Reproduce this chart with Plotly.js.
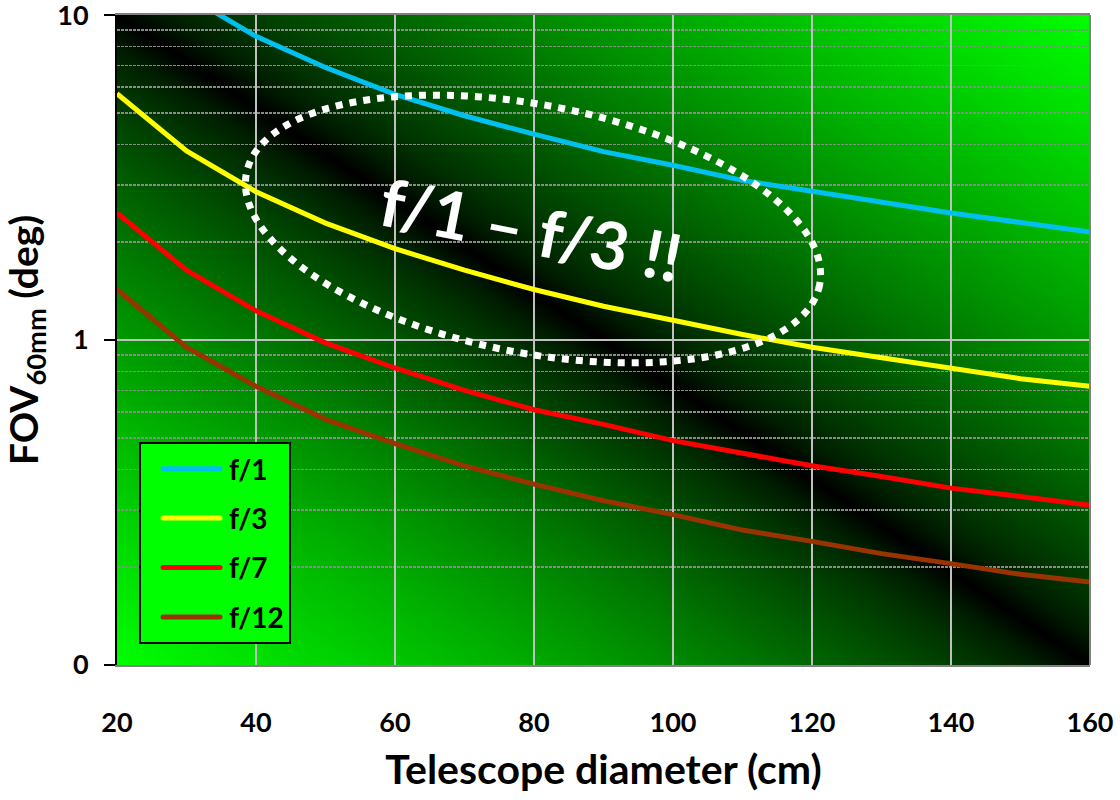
<!DOCTYPE html>
<html>
<head>
<meta charset="utf-8">
<script src="https://cdn.plot.ly/plotly-3.0.1.min.js"></script>
<style>
  html, body { margin: 0; padding: 0; background: #ffffff; }
  #chart { width: 1120px; height: 800px; }
</style>
</head>
<body>
<div id="chart"></div>
<script>
// ---- Data ----
const diameterCm = [20, 30, 40, 50, 60, 70, 80, 90, 100, 110, 120, 130, 140, 150, 160];
const fovF1  = [17.2, 11.5, 8.6, 6.9, 5.7, 4.9, 4.3, 3.8, 3.45, 3.1, 2.87, 2.65, 2.46, 2.3, 2.15];
const fovF3  = [5.73, 3.82, 2.86, 2.29, 1.91, 1.64, 1.43, 1.27, 1.15, 1.04, 0.95, 0.88, 0.82, 0.76, 0.72];
const fovF7  = [2.46, 1.64, 1.23, 0.98, 0.82, 0.70, 0.61, 0.55, 0.49, 0.45, 0.41, 0.38, 0.35, 0.33, 0.31];
const fovF12 = [1.43, 0.95, 0.72, 0.57, 0.48, 0.41, 0.36, 0.32, 0.29, 0.26, 0.24, 0.22, 0.205, 0.19, 0.18];
const seriesNames = ["f/1", "f/3", "f/7", "f/12"];
const xTickVals = [20, 40, 60, 80, 100, 120, 140, 160];
const yTickVals = [0.1, 1, 10];
const yTickText = ["0", "1", "10"];
const yMinorVals = [0.2, 0.3, 0.4, 0.5, 0.6, 0.7, 0.8, 0.9, 2, 3, 4, 5, 6, 7, 8, 9];
const noteText = "f/1 – f/3 !!";

// ---- Layout geometry ----
const W = 1120, H = 800;
const M = { l: 117, r: 30, t: 15, b: 135 };
const PW = W - M.l - M.r, PH = H - M.t - M.b;
const FONT = "Lato, 'Open Sans', 'DejaVu Sans', sans-serif";

// Background: diagonal green-black-green gradient (decoration of plot area)
function gradientImage() {
  const c = document.createElement("canvas");
  c.width = 1000; c.height = 1000;
  const g = c.getContext("2d");
  const gr = g.createLinearGradient(1000, 0, 0, 1000);
  const N = 40;
  for (let i = 0; i <= N; i++) {
    const t = i / N;
    const d = Math.abs(t - 0.5) * 2;
    const v = Math.round(255 * Math.pow(d, 0.72));
    gr.addColorStop(t, "rgb(0," + v + ",0)");
  }
  g.fillStyle = gr;
  g.fillRect(0, 0, 1000, 1000);
  return c.toDataURL("image/png");
}

// Dotted ellipse highlight (decoration), built in pixel space then converted to paper coords
function ellipsePath(cx, cy, a, b, deg) {
  const th = deg * Math.PI / 180;
  const pts = [];
  const n = 180;
  for (let i = 0; i <= n; i++) {
    const t = 2 * Math.PI * i / n;
    const ex = a * Math.cos(t), ey = b * Math.sin(t);
    const px = cx + ex * Math.cos(th) - ey * Math.sin(th);
    const py = cy + ex * Math.sin(th) + ey * Math.cos(th);
    const X = (px - M.l) / PW, Y = (M.t + PH - py) / PH;
    pts.push((i === 0 ? "M" : "L") + X.toFixed(5) + "," + Y.toFixed(5));
  }
  return pts.join(" ") + " Z";
}

const lineColors = ["#00c0f0", "#ffff00", "#ff0000", "#993300"];
const ys = [fovF1, fovF3, fovF7, fovF12];
const traces = ys.map((y, i) => ({
  type: "scatter",
  mode: "lines",
  x: diameterCm,
  y: y,
  name: seriesNames[i],
  legendgroup: "g" + i,
  line: { color: lineColors[i], width: 5 },
  hoverinfo: "x+y+name"
}));

const layout = {
  width: W, height: H,
  margin: M,
  paper_bgcolor: "#ffffff",
  plot_bgcolor: "rgba(0,0,0,0)",
  font: { family: FONT, color: "#000000" },
  showlegend: true,
  xaxis: {
    type: "linear",
    range: [20, 160],
    tickmode: "array",
    tickvals: xTickVals,
    ticks: "",
    showline: true, linecolor: "#808080", linewidth: 2, mirror: true,
    showgrid: true, gridcolor: "#c0c0c0", gridwidth: 2,
    zeroline: false,
    tickfont: { family: FONT, size: 27, color: "#000", weight: "bold" },
    ticklabelstandoff: 33,
    ticklabeloverflow: "allow",
    title: { text: "Telescope diameter (cm)", font: { family: FONT, size: 41, color: "#000", weight: "bold" }, standoff: 18 },
    automargin: false
  },
  yaxis: {
    type: "log",
    range: [-1.0003, 1.0003],
    tickmode: "array",
    tickvals: yTickVals,
    ticktext: yTickText,
    ticks: "outside", ticklen: 11, tickwidth: 2, tickcolor: "#000",
    showline: true, linecolor: "#000", linewidth: 2,
    showgrid: true, gridcolor: "#c0c0c0", gridwidth: 2,
    zeroline: false,
    minor: {
      tickmode: "array", tickvals: yMinorVals, ticks: "",
      showgrid: true, gridcolor: "#8a8a8a", gridwidth: 1.5, griddash: "3px,1px"
    },
    tickfont: { family: FONT, size: 27, color: "#000", weight: "bold" },
    ticklabelstandoff: 10,
    ticklabeloverflow: "allow",
    title: { text: "FOV<sub>60mm</sub> (deg)", font: { family: FONT, size: 39, color: "#000", weight: "bold" }, standoff: 12 },
    automargin: false
  },
  legend: {
    x: (139 - M.l) / PW, y: (M.t + PH - 442) / PH,
    xanchor: "left", yanchor: "top",
    bgcolor: "#00ff00", bordercolor: "#000", borderwidth: 2,
    font: { family: FONT, size: 28, color: "#000", weight: "bold" },
    tracegroupgap: 10,
    traceorder: "grouped",
    itemwidth: 78,
    entrywidth: 80,
    entrywidthmode: "pixels"
  },
  images: [{
    source: gradientImage(),
    xref: "paper", yref: "paper",
    x: 0, y: 1, sizex: 1, sizey: 1,
    xanchor: "left", yanchor: "top",
    sizing: "stretch", layer: "below"
  }],
  shapes: [
    { type: "line", xref: "paper", yref: "paper", x0: 1, x1: 1, y0: 0, y1: 1,
      line: { color: "#808080", width: 2 } },
    { type: "path", xref: "paper", yref: "paper",
      path: ellipsePath(533, 229, 292, 124, 11),
      line: { color: "#ffffff", width: 7, dash: "dot" },
      fillcolor: "rgba(0,0,0,0)" }
  ],
  annotations: [{
    xref: "paper", yref: "paper",
    x: (531 - M.l) / PW, y: (M.t + PH - 228) / PH,
    xanchor: "center", yanchor: "middle",
    text: noteText, showarrow: false, textangle: 11,
    font: { family: FONT, size: 66, color: "#ffffff", weight: "bold" }
  }]
};

// Lengthen the legend line samples (Excel-style longer swatches with round caps)
function styleLegendSwatches(gd) {
  gd.querySelectorAll(".legend .traces .js-line").forEach(p => {
    p.setAttribute("d", "M22,0h57");
    p.style.strokeLinecap = "round";
  });
}

const gd = document.getElementById("chart");
Plotly.newPlot(gd, traces, layout, { displayModeBar: false, staticPlot: true }).then(() => {
  styleLegendSwatches(gd);
  gd.on("plotly_afterplot", () => styleLegendSwatches(gd));
});
</script>
</body>
</html>
